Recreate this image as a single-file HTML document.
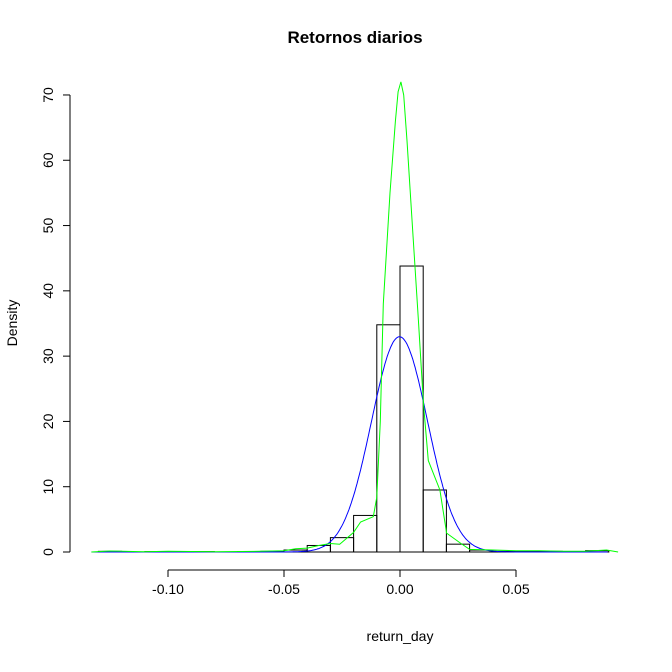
<!DOCTYPE html>
<html><head><meta charset="utf-8"><style>
body{margin:0;background:#fff}
svg text{font-family:"Liberation Sans",sans-serif;fill:#000}
</style></head><body>
<svg id="c" width="672" height="667"></svg>
<script>
const binStarts=[-0.13,-0.12,-0.11,-0.10,-0.09,-0.08,-0.07,-0.06,-0.05,-0.04,-0.03,-0.02,-0.01,0.00,0.01,0.02,0.03,0.04,0.05,0.06,0.07,0.08];
const densities=[0.1,0,0.05,0,0.05,0,0.05,0.1,0.3,1.0,2.2,5.6,34.8,43.8,9.5,1.2,0.3,0.1,0.1,0.1,0,0.2];
const kdeX=[-0.133,-0.125,-0.11,-0.1,-0.08,-0.06,-0.05,-0.045,-0.04,-0.035,-0.03,-0.026,-0.02,-0.017,-0.0115,-0.01,-0.0085,-0.0072,-0.0043,-0.002,-0.0008,0.0004,0.0016,0.003,0.0057,0.008,0.0101,0.0122,0.0172,0.0201,0.0259,0.03,0.04,0.05,0.06,0.07,0.08,0.089,0.094];
const kdeY=[0,0.15,0.05,0.1,0.05,0.1,0.2,0.5,0.6,1.0,1.3,1.2,3.0,4.6,5.4,8.4,20,38,55,66,70.5,72,70,63,48,35,22.8,14,9.5,2.9,1.4,0.4,0.3,0.2,0.2,0.1,0.1,0.3,0];
const normMean=-0.0002, normSd=0.0121;
const xTicks=[-0.10,-0.05,0.00,0.05], xTickLabels=["-0.10","-0.05","0.00","0.05"];
const yTicks=[0,10,20,30,40,50,60,70];
const sx=v=>400+v*2320, sy=v=>552-v*6.529;
const svg=document.getElementById('c'),NS='http://www.w3.org/2000/svg';
function mk(t,a,txt){const e=document.createElementNS(NS,t);for(const k in a)e.setAttribute(k,a[k]);if(txt!==undefined)e.textContent=txt;svg.appendChild(e);return e;}
let e=mk('text',{x:355,y:43,'font-size':17,'font-weight':'bold','text-anchor':'middle'},'Retornos diarios');

e=mk('text',{x:400,y:641,'font-size':14,'text-anchor':'middle'},'return_day');

e=mk('text',{x:17,y:323,'font-size':14,'text-anchor':'middle',transform:'rotate(-90 17 323)'},'Density');

binStarts.forEach((b,i)=>{const x0=sx(b),x1=sx(b+0.01),y=sy(densities[i]);
 const r=mk('rect',{x:x0,y:y,width:x1-x0,height:552-y,fill:'none',stroke:'#000','stroke-width':1});
 });
let pts=[];for(let v=-0.133;v<=0.09;v+=0.0005){const d=Math.exp(-0.5*((v-normMean)/normSd)**2)/(normSd*Math.sqrt(2*Math.PI));pts.push(sx(v).toFixed(1)+','+sy(d).toFixed(1));}
e=mk('polyline',{points:pts.join(' '),fill:'none',stroke:'#0000ff','stroke-width':1});

e=mk('polyline',{points:kdeX.map((v,i)=>sx(v).toFixed(1)+','+sy(kdeY[i]).toFixed(1)).join(' '),fill:'none',stroke:'#00ff00','stroke-width':1});

e=mk('line',{x1:sx(xTicks[0]),x2:sx(xTicks[xTicks.length-1]),y1:570,y2:570,stroke:'#000'});

xTicks.forEach((t,i)=>{mk('line',{x1:sx(t),x2:sx(t),y1:570,y2:577,stroke:'#000'});
 const l=mk('text',{x:sx(t),y:594,'font-size':14,'text-anchor':'middle'},xTickLabels[i]);
 });
e=mk('line',{x1:70,x2:70,y1:sy(0),y2:sy(70),stroke:'#000'});

yTicks.forEach(t=>{const y=sy(t);mk('line',{x1:63,x2:70,y1:y,y2:y,stroke:'#000'});
 const l=mk('text',{x:53,y:y,'font-size':14,'text-anchor':'middle',transform:`rotate(-90 53 ${y})`},String(t));
 });
</script></body></html>
